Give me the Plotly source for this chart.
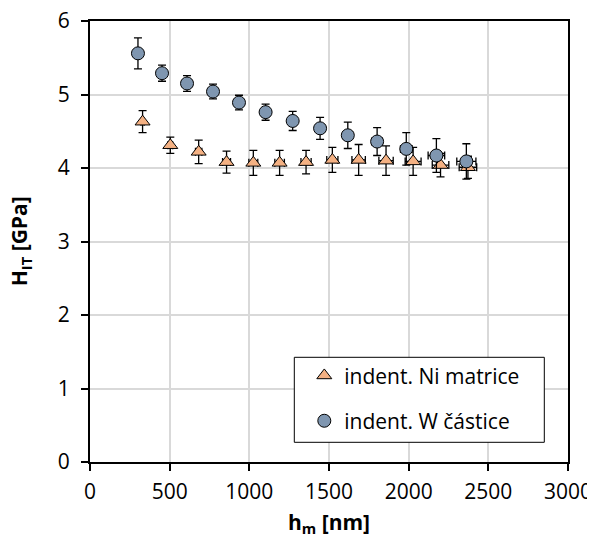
import plotly.graph_objects as go

# Ni matrix (triangles)
ni_h = [330, 504, 682, 857, 1025, 1190, 1356, 1521, 1686, 1858, 2028, 2200, 2372]
ni_H = [4.63, 4.31, 4.22, 4.08, 4.07, 4.07, 4.08, 4.11, 4.11, 4.10, 4.09, 4.04, 4.01]
ni_H_err = [0.15, 0.11, 0.16, 0.15, 0.17, 0.17, 0.16, 0.17, 0.21, 0.20, 0.19, 0.16, 0.15]
ni_h_err = [10, 15, 20, 25, 28, 30, 32, 35, 42, 45, 50, 52, 55]

# W particles (circles)
w_h = [301, 452, 609, 772, 935, 1102, 1272, 1444, 1618, 1802, 1985, 2174, 2362]
w_H = [5.56, 5.29, 5.15, 5.04, 4.89, 4.76, 4.64, 4.54, 4.445, 4.36, 4.26, 4.17, 4.09]
w_H_err = [0.21, 0.11, 0.107, 0.10, 0.10, 0.11, 0.13, 0.15, 0.18, 0.19, 0.22, 0.23, 0.24]
w_h_err = [10, 12, 15, 18, 20, 22, 25, 28, 30, 33, 36, 52, 60]

x_ticks = [0, 500, 1000, 1500, 2000, 2500, 3000]
y_ticks = [0, 1, 2, 3, 4, 5, 6]

FONT = "Open Sans"
eb = dict(type="data", color="black", thickness=1.3, width=4)

fig = go.Figure()
fig.add_trace(go.Scatter(
    x=ni_h, y=ni_H, mode="markers", name="indent. Ni matrice",
    legendgroup="ni",
    marker=dict(symbol="triangle-up", size=13, color="#F4B183",
                line=dict(color="black", width=1)),
    error_y=dict(array=ni_H_err, **eb),
    error_x=dict(array=ni_h_err, **eb),
))
fig.add_trace(go.Scatter(
    x=w_h, y=w_H, mode="markers", name="indent. W částice",
    legendgroup="w",
    marker=dict(symbol="circle", size=13, color="#7F96B0",
                line=dict(color="black", width=1)),
    error_y=dict(array=w_H_err, **eb),
    error_x=dict(array=w_h_err, **eb),
))

axis_common = dict(
    showline=True, linecolor="black", linewidth=2, mirror=True,
    ticks="outside", ticklen=7, tickwidth=2, tickcolor="black",
    showgrid=True, gridcolor="#D9D9D9", gridwidth=1.5,
    zeroline=False, automargin=False, ticklabeloverflow="allow",
    tickfont=dict(family=FONT, size=21, color="#000000"),
)

fig.update_xaxes(range=[0, 3000], tickvals=x_ticks,
                 ticktext=[str(v) for v in x_ticks], ticklabelstandoff=3,
                 **axis_common)
fig.update_yaxes(range=[0, 6], tickvals=y_ticks,
                 ticktext=[str(v) for v in y_ticks], ticklabelstandoff=7,
                 **axis_common)

fig.add_annotation(text="<b>h<sub>m</sub> [nm]</b>", xref="paper", yref="paper",
                   x=0.5, y=-0.138, xanchor="center", yanchor="middle",
                   showarrow=False, font=dict(family=FONT, size=21, color="black"))
fig.add_annotation(text="<b>H<sub>IT</sub> [GPa]</b>", xref="paper", yref="paper",
                   x=-0.147, y=0.5, xanchor="center", yanchor="middle", textangle=-90,
                   showarrow=False, font=dict(family=FONT, size=21, color="black"))

# legend frame
fig.add_shape(type="rect", xref="paper", yref="paper",
              x0=(294 - 89.7) / 478, x1=(544 - 89.7) / 478,
              y0=(461.7 - 442) / 441, y1=(461.7 - 357) / 441,
              line=dict(color="black", width=1), fillcolor="white", layer="above")

fig.update_layout(
    width=595, height=541,
    margin=dict(l=82, r=35, t=13, b=87),
    paper_bgcolor="white", plot_bgcolor="white",
    font=dict(family=FONT, size=21, color="black"),
    showlegend=True,
    legend=dict(
        x=(304 - 89.7) / 478, y=(461.7 - 355) / 441, xanchor="left", yanchor="top",
        bgcolor="rgba(0,0,0,0)", borderwidth=0,
        font=dict(family=FONT, size=21, color="black"),
        tracegroupgap=15, traceorder="grouped",
        itemwidth=30,
    ),
)

fig.write_html("out.html")
